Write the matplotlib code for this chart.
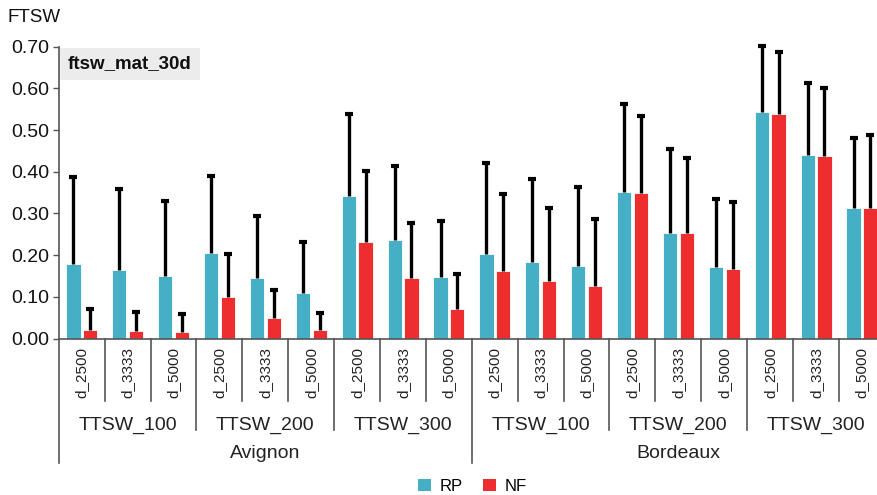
import matplotlib
matplotlib.use("Agg")
import matplotlib.pyplot as plt
import numpy as np
from matplotlib.patches import Patch

plt.rcParams['font.family'] = ['Liberation Sans', 'DejaVu Sans']

# data
sites = ["Avignon", "Bordeaux"]
ttsw = ["TTSW_100", "TTSW_200", "TTSW_300"]
densities = ["d_2500", "d_3333", "d_5000"]

rp_mean = [0.179, 0.164, 0.149, 0.205, 0.145, 0.110, 0.343, 0.236, 0.147,
           0.202, 0.184, 0.175, 0.352, 0.253, 0.172, 0.543, 0.440, 0.312]
rp_sd = [0.209, 0.195, 0.182, 0.184, 0.150, 0.122, 0.196, 0.177, 0.135,
         0.218, 0.199, 0.188, 0.211, 0.202, 0.162, 0.159, 0.173, 0.170]
nf_mean = [0.021, 0.018, 0.016, 0.100, 0.049, 0.021, 0.232, 0.145, 0.072,
           0.161, 0.138, 0.125, 0.349, 0.252, 0.168, 0.539, 0.438, 0.313]
nf_sd = [0.050, 0.045, 0.043, 0.103, 0.068, 0.040, 0.170, 0.132, 0.083,
         0.185, 0.174, 0.161, 0.185, 0.180, 0.160, 0.148, 0.164, 0.174]

rp_col = "#45afc6"
nf_col = "#ee2e2e"
axis_col = "#555555"

fig = plt.figure(figsize=(8.78, 4.95), dpi=100)
ax = fig.add_axes([0.0669, 0.316, 0.9408, 0.5897])

n = len(rp_mean)
x = np.arange(n)
w = 0.31
for off, mean, sd, col in [(0.32, rp_mean, rp_sd, rp_col), (0.685, nf_mean, nf_sd, nf_col)]:
    mean = np.array(mean)
    top = mean + np.array(sd)
    ax.bar(x + off, mean, w, color=col, edgecolor="white", linewidth=0.6)
    # upper-only error bars: stem + cap
    ax.vlines(x + off, mean, top, color="black", lw=2.4, clip_on=False, zorder=3)
    ax.plot(x + off, top, linestyle="none", marker="_", ms=6, mew=3,
            color="black", clip_on=False, zorder=3)

ax.set_xlim(0, n)
ax.set_ylim(0, 0.70)
ax.set_yticks(np.arange(0, 0.71, 0.1))
ax.set_yticklabels(["%.2f" % v for v in np.arange(0, 0.71, 0.1)], fontsize=14, color="#111111")
ax.tick_params(axis="y", length=4, width=1, color=axis_col, pad=3)
ax.set_xticks([])
for s in ["top", "right", "left"]:
    ax.spines[s].set_visible(False)
ax.spines["bottom"].set_color(axis_col)
ax.spines["bottom"].set_linewidth(1.2)

tr = ax.get_xaxis_transform()
# left axis line, running down through the label area
ax.plot([0, 0], [-0.426, 1.0], transform=tr, color=axis_col, lw=1.2, clip_on=False)

# separators and labels under the axis
for i in range(1, n):
    if i % 9 == 0:
        y0 = -0.426
    elif i % 3 == 0:
        y0 = -0.313
    else:
        y0 = -0.213
    ax.plot([i, i], [y0, 0], transform=tr, color=axis_col, lw=1.2, clip_on=False)

for i in range(n):
    ax.text(i + 0.5, -0.03, densities[i % 3], rotation=90, ha="center", va="top",
            fontsize=11, color="#222222", transform=tr)
for k in range(6):
    ax.text(3 * k + 1.5, -0.296, ttsw[k % 3], ha="center", va="center",
            fontsize=14, color="#222222", transform=tr)
for k in range(2):
    ax.text(9 * k + 4.5, -0.395, sites[k], ha="center", va="center",
            fontsize=14, color="#222222", transform=tr)

fig.text(8 / 878, 1 - 17 / 495, "FTSW", fontsize=13.5, ha="left", va="center", color="#111111")

ax.text(0.0113, 0.941, "ftsw_mat_30d", fontsize=13.5, fontweight="bold", ha="left",
        va="center", color="#111111", transform=ax.transAxes,
        bbox=dict(boxstyle="square,pad=0.42", facecolor="#ececec", edgecolor="none"))

handles = [Patch(facecolor=rp_col, label="RP"), Patch(facecolor=nf_col, label="NF")]
fig.legend(handles=handles, loc="center", bbox_to_anchor=(0.538, 0.018), ncol=2,
           frameon=False, fontsize=12, handlelength=0.8, handleheight=0.8,
           handletextpad=0.5, columnspacing=1.2)

fig.savefig("out.png", dpi=100)
